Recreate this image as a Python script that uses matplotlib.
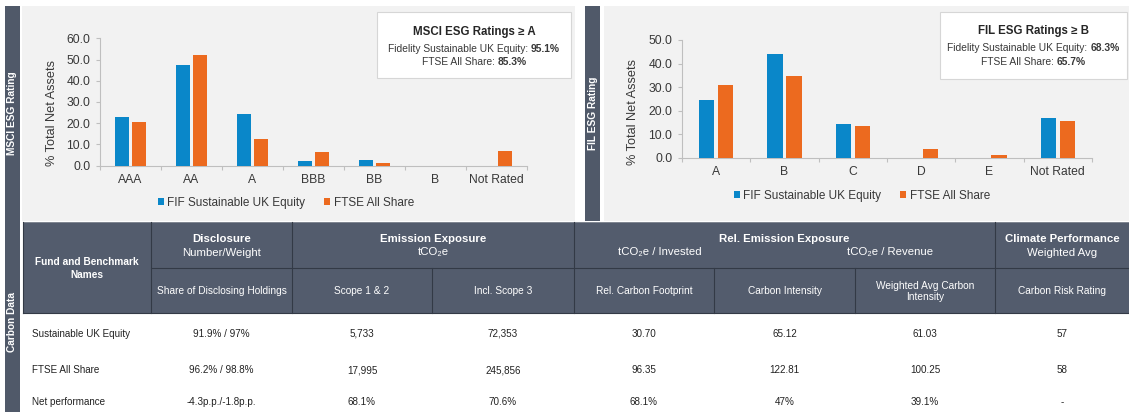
import matplotlib
matplotlib.use('Agg')
import matplotlib.pyplot as plt
from matplotlib.patches import Rectangle
import numpy as np

plt.rcParams['font.family'] = ['Liberation Sans', 'DejaVu Sans']

# ---------------- data ----------------
series_names = ['FIF Sustainable UK Equity', 'FTSE All Share']

msci_categories = ['AAA', 'AA', 'A', 'BBB', 'BB', 'B', 'Not Rated']
msci_fund = [23.1, 47.6, 24.4, 2.3, 2.5, 0.0, 0.0]
msci_bench = [20.6, 51.9, 12.8, 6.4, 1.3, 0.0, 6.7]
msci_yticks = [0, 10, 20, 30, 40, 50, 60]

fil_categories = ['A', 'B', 'C', 'D', 'E', 'Not Rated']
fil_fund = [24.4, 43.9, 14.4, 0.0, 0.0, 16.9]
fil_bench = [30.8, 34.9, 13.5, 3.7, 1.1, 15.6]
fil_yticks = [0, 10, 20, 30, 40, 50]

msci_box_title = 'MSCI ESG Ratings \u2265 A'
msci_box_lines = [('Fidelity Sustainable UK Equity:', '95.1%'), ('FTSE All Share:', '85.3%')]
fil_box_title = 'FIL ESG Ratings \u2265 B'
fil_box_lines = [('Fidelity Sustainable UK Equity:', '68.3%'), ('FTSE All Share:', '65.7%')]

side_labels = ['MSCI ESG Rating', 'FIL ESG Rating', 'Carbon Data']
y_label = '% Total Net Assets'

first_col_header = ['Fund and Benchmark', 'Names']
group_titles = ['Disclosure', 'Emission Exposure', 'Rel. Emission Exposure', 'Climate Performance']
group_subtitles = ['Number/Weight', 'tCO\u2082e', None, 'Weighted Avg']
rel_subtitles = ['tCO\u2082e / Invested', 'tCO\u2082e / Revenue']
sub_headers = ['Share of Disclosing Holdings', 'Scope 1 & 2', 'Incl. Scope 3',
               'Rel. Carbon Footprint', 'Carbon Intensity',
               'Weighted Avg Carbon\nIntensity', 'Carbon Risk Rating']
row_names = ['Sustainable UK Equity', 'FTSE All Share', 'Net performance']
row_values = [
    ['91.9% / 97%', '5,733', '72,353', '30.70', '65.12', '61.03', '57'],
    ['96.2% / 98.8%', '17,995', '245,856', '96.35', '122.81', '100.25', '58'],
    ['-4.3p.p./-1.8p.p.', '68.1%', '70.6%', '68.1%', '47%', '39.1%', '-'],
]

# ---------------- style ----------------
W, H = 1129, 412
BLUE = '#0a87c9'
ORANGE = '#ec6a1f'
SLATE = '#505969'
HEAD = '#535c6d'
PANEL = '#f2f2f2'
AXC = '#bfbfbf'
TXT = '#383838'
LINE = '#333a46'
TICKFS = 8.7

fig = plt.figure(figsize=(W / 100, H / 100), dpi=100)
fig.patch.set_facecolor('white')

bg = fig.add_axes([0, 0, 1, 1])
bg.set_xlim(0, W)
bg.set_ylim(H, 0)
bg.axis('off')


def rect(ax, x0, y0, x1, y1, **kw):
    ax.add_patch(Rectangle((x0, y0), x1 - x0, y1 - y0, **kw))


# panels and side bars
rect(bg, 22, 6, 575, 221, facecolor=PANEL, edgecolor='none')
rect(bg, 604, 6, W, 221, facecolor=PANEL, edgecolor='none')
rect(bg, 5, 6, 20, H, facecolor=SLATE, edgecolor='none')
rect(bg, 585, 6, 600, 221, facecolor=SLATE, edgecolor='none')

bg.text(12.5, 113.5, side_labels[0], rotation=90, color='white', fontweight='bold',
        fontsize=7.3, ha='center', va='center')
bg.text(592.5, 113.5, side_labels[1], rotation=90, color='white', fontweight='bold',
        fontsize=7.3, ha='center', va='center')
bg.text(12.5, 322, side_labels[2], rotation=90, color='white', fontweight='bold',
        fontsize=7.3, ha='center', va='center')

bg.text(52, 113, y_label, rotation=90, color=TXT, fontsize=9.2, ha='center', va='center')
bg.text(633, 112, y_label, rotation=90, color=TXT, fontsize=9.2, ha='center', va='center')


def draw_chart(ax, cats, fund, bench, yticks, width, offset, legend_xy):
    x = np.arange(len(cats))
    ax.bar(x - offset, fund, width, color=BLUE, label=series_names[0], zorder=3, linewidth=0)
    ax.bar(x + offset, bench, width, color=ORANGE, label=series_names[1], zorder=3, linewidth=0)
    ax.set_xlim(-0.5, len(cats) - 0.5)
    ax.set_ylim(yticks[0], yticks[-1])
    ax.set_yticks(yticks)
    ax.set_yticklabels([f'{v:.1f}' for v in yticks])
    ax.set_xticks(np.arange(len(cats) + 1) - 0.5)
    ax.set_xticklabels([])
    ax.set_xticks(x, minor=True)
    ax.set_xticklabels(cats, minor=True)
    ax.tick_params(axis='x', which='major', length=3, width=0.8, color=AXC)
    ax.tick_params(axis='x', which='minor', length=0, pad=6, labelsize=TICKFS, labelcolor=TXT)
    ax.tick_params(axis='y', length=3, width=0.8, color=AXC, pad=4, labelsize=TICKFS, labelcolor=TXT)
    for s in ['top', 'right']:
        ax.spines[s].set_visible(False)
    for s in ['left', 'bottom']:
        ax.spines[s].set_color(AXC)
        ax.spines[s].set_linewidth(0.8)
    ax.patch.set_alpha(0)
    ax.legend(loc='center', bbox_to_anchor=legend_xy, bbox_transform=bg.transData,
              ncol=2, frameon=False, fontsize=8.5, handlelength=0.5, handleheight=0.5,
              handletextpad=0.3, columnspacing=1.6, labelcolor=TXT, borderpad=0)


axL = fig.add_axes([100 / W, (H - 165.7) / H, 427 / W, 127.4 / H])
draw_chart(axL, msci_categories, msci_fund, msci_bench, msci_yticks, 0.22, 0.139, (286, 203))

axR = fig.add_axes([682 / W, (H - 157.7) / H, 410 / W, 117.7 / H])
draw_chart(axR, fil_categories, fil_fund, fil_bench, fil_yticks, 0.225, 0.14, (862, 196))

# overlay for info boxes
ov = fig.add_axes([0, 0, 1, 1])
ov.set_xlim(0, W)
ov.set_ylim(H, 0)
ov.axis('off')
ov.patch.set_alpha(0)

renderer = fig.canvas.get_renderer()


def mixed_line(ax, cx, y, regular, bold, size):
    t1 = ax.text(0, y, regular, fontsize=size, ha='left', va='center', color=TXT)
    t2 = ax.text(0, y, bold, fontsize=size, fontweight='bold', ha='left', va='center', color=TXT)
    w1 = t1.get_window_extent(renderer).width
    w2 = t2.get_window_extent(renderer).width
    gap = 0.278 * size * 100 / 72
    x0 = cx - (w1 + gap + w2) / 2
    t1.set_x(x0)
    t2.set_x(x0 + w1 + gap)


def info_box(ax, x0, y0, x1, y1, title, lines, ty, ly):
    rect(ax, x0, y0, x1, y1, facecolor='white', edgecolor='#d6d6d6', linewidth=0.8)
    cx = (x0 + x1) / 2
    ax.text(cx, ty, title, fontsize=8.3, fontweight='bold', ha='center', va='center', color='#262626')
    for (reg, bld), yy in zip(lines, ly):
        mixed_line(ax, cx, yy, reg, bld, 7.4)


info_box(ov, 377, 12, 571, 78, msci_box_title, msci_box_lines, 31.5, [48.5, 62])
info_box(ov, 940, 12, 1127, 79, fil_box_title, fil_box_lines, 30.5, [48, 62])

# ---------------- table ----------------
col_edges = [23, 151, 292, 432, 574, 714, 855, 995, W]
hy0, hmid, hy1 = 221.5, 268, 313
rect(bg, col_edges[0], hy0, W, hy1, facecolor=HEAD, edgecolor='none')
lw = 0.8
bg.plot([col_edges[0], W], [hy1, hy1], color=LINE, lw=lw)
bg.plot([col_edges[0], W], [hy0, hy0], color='#8a909a', lw=0.6)
bg.plot([col_edges[0], col_edges[0]], [hy0, hy1], color=LINE, lw=lw)
bg.plot([col_edges[1], W], [hmid, hmid], color=LINE, lw=lw)
for xe in [col_edges[1], col_edges[2], col_edges[4], col_edges[7]]:
    bg.plot([xe, xe], [hy0, hy1], color=LINE, lw=lw)
for xe in [col_edges[3], col_edges[5], col_edges[6]]:
    bg.plot([xe, xe], [hmid, hy1], color=LINE, lw=lw)

centers = [(col_edges[i] + col_edges[i + 1]) / 2 for i in range(len(col_edges) - 1)]

bg.text(centers[0], 262, first_col_header[0], fontsize=7.3, fontweight='bold', color='white',
        ha='center', va='center')
bg.text(centers[0], 274.5, first_col_header[1], fontsize=7.3, fontweight='bold', color='white',
        ha='center', va='center')

group_centers = [centers[1], (col_edges[2] + col_edges[4]) / 2,
                 (col_edges[4] + col_edges[7]) / 2, centers[7]]
for gc, gt, gs in zip(group_centers, group_titles, group_subtitles):
    bg.text(gc, 239, gt, fontsize=8.2, fontweight='bold', color='white', ha='center', va='center')
    if gs:
        bg.text(gc, 252.5, gs, fontsize=8.2, color='white', ha='center', va='center')
for xc, rs in zip([660, 890], rel_subtitles):
    bg.text(xc, 252.5, rs, fontsize=8.2, color='white', ha='center', va='center')

for xc, sh in zip(centers[1:], sub_headers):
    bg.text(xc, 291.5, sh, fontsize=7.3, color='white', ha='center', va='center', linespacing=1.1)

row_y = [333, 369.5, 401.5]
for yy, name, vals in zip(row_y, row_names, row_values):
    bg.text(32, yy + 3.6, name, fontsize=7.1, color='#222222', ha='left', va='baseline')
    for xc, v in zip(centers[1:], vals):
        bg.text(xc, yy + 3.6, v, fontsize=7.1, color='#222222', ha='center', va='baseline')

fig.savefig('out.png', dpi=100, facecolor='white')
